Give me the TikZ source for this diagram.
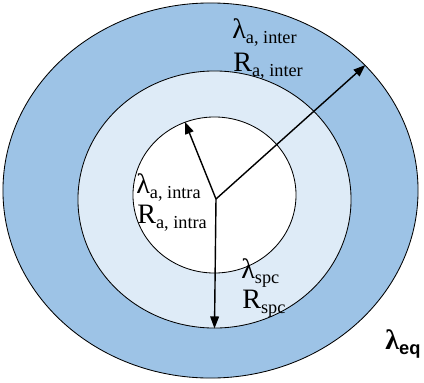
\documentclass[tikz,border=0pt]{standalone}
\usepackage{fontspec}
\setmainfont{Liberation Serif}
\newfontfamily\eqfont{Liberation Sans}
\usepackage{xcolor}
\definecolor{ringblue}{HTML}{9DC3E6}
\definecolor{paleblue}{HTML}{DEEBF7}
\usepackage{tikz}
\usetikzlibrary{arrows.meta,shapes.geometric}
\newcommand{\lowsub}[1]{\raisebox{-0.45ex}{\fontsize{13}{14}\selectfont #1}}

\begin{document}
\begin{tikzpicture}[
  x=0.025cm,y=-0.025cm,
  ring/.style={draw=black,line width=0.6pt,ellipse,inner sep=0pt},
  arrow/.style={-{Triangle[length=3mm,width=2.2mm]},line width=1pt},
  lbl/.style={anchor=base west,inner sep=0pt,font=\fontsize{20}{22}\selectfont}
]
\useasboundingbox (0,0) rectangle (424,383);
\clip (0,0) rectangle (424,383);
% rings
\node[ring,fill=ringblue,minimum width=10.375cm,minimum height=9.375cm] (outer) at (210.5,190.5) {};
\node[ring,fill=paleblue,minimum width=6.825cm,minimum height=6.425cm] (mid) at (214.5,199.5) {};
\node[ring,fill=white,minimum width=4.075cm,minimum height=3.9cm] (inner) at (214.5,195) {};
\coordinate (c) at (216,199);
% radii
\draw[arrow] (c) -- (inner.112);
\draw[arrow] (c) -- (outer.39);
\draw[arrow] (c) -- (mid.south);
% labels
\node[lbl] (linter) at (232,38) {λ\lowsub{a, inter}};
\node[lbl] (rinter) at (233,71) {R\lowsub{a, inter}};
\node[lbl] (lintra) at (136,193) {λ\lowsub{a, intra}};
\node[lbl] (rintra) at (137,223) {R\lowsub{a, intra}};
\node[lbl] (lspc) at (241,278) {λ\lowsub{spc}};
\node[lbl] (rspc) at (242,308) {R\lowsub{spc}};
\node[lbl,font=\fontsize{20}{22}\selectfont\bfseries] (leq) at (385,349) {λ\lowsub{\eqfont\bfseries eq}};
\end{tikzpicture}
\end{document}
